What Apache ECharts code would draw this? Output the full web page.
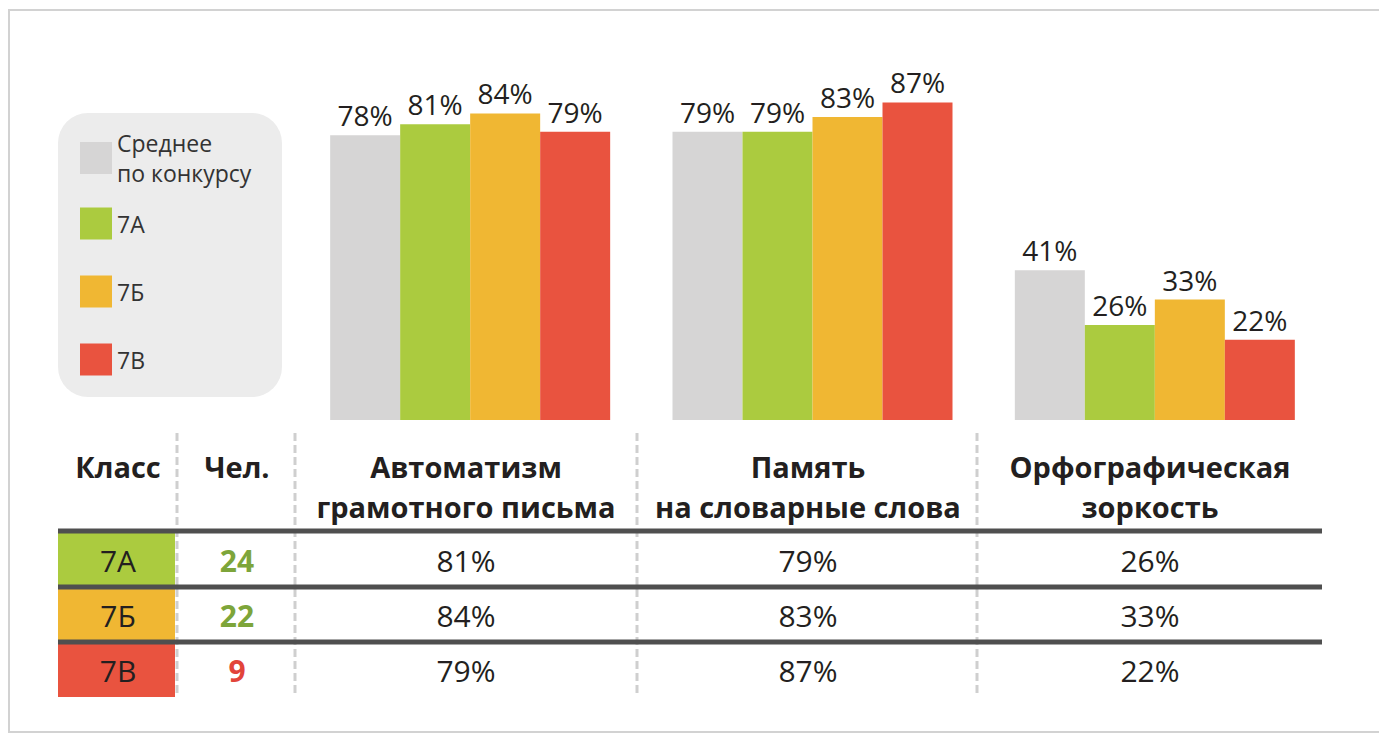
<!DOCTYPE html>
<html>
<head>
<meta charset="utf-8">
<script src="https://cdn.jsdelivr.net/npm/echarts@6/dist/echarts.min.js"></script>
<style>
html,body{margin:0;padding:0;background:#fff;}
#c{width:1379px;height:734px;}
</style>
</head>
<body>
<div id="c"></div>
<script>
// ---- data ----
const categoryTitles = ['Автоматизм', 'Память', 'Орфографическая'];
const categorySubtitles = ['грамотного письма', 'на словарные слова', 'зоркость'];
const seriesNames = ['Среднее по конкурсу', '7А', '7Б', '7В'];
const avgValues = [78, 79, 41];
const values7A = [81, 79, 26];
const values7B = [84, 83, 33];
const values7V = [79, 87, 22];
const classNames = ['7А', '7Б', '7В'];
const classCounts = [24, 22, 9];
const tableHeaders = ['Класс', 'Чел.'];

// ---- styling / layout ----
const FONT = "'Open Sans', 'Noto Sans', sans-serif";
const colors = ['#d6d5d5', '#abcb3f', '#f0b733', '#e9533f'];
const textColor = '#231f20';
const categories = categoryTitles.map((t, i) => t + '\n' + categorySubtitles[i]);
const allSeries = [avgValues, values7A, values7B, values7V];
const classSeries = [values7A, values7B, values7V];

const colCenters = [118, 237, 466, 808, 1150];
const dashX = [177, 295, 637, 977];
const hLineY = [531, 587, 642];
const tableBottom = 697;
const tableLeft = 58, tableRight = 1322, classCellRight = 175;

const graphic = [];
// outer frame
graphic.push({type: 'rect', z: 0, shape: {x: 9, y: 10, width: 1400, height: 722},
  style: {fill: 'none', stroke: '#d2d2d2', lineWidth: 2}});
// legend background
graphic.push({type: 'rect', z: 0, shape: {x: 58, y: 113, width: 224, height: 284, r: 30},
  style: {fill: '#ececec'}});

// class colored cells
classNames.forEach((c, i) => {
  const top = hLineY[i];
  const bottom = i + 1 < hLineY.length ? hLineY[i + 1] : tableBottom;
  graphic.push({type: 'rect', z: 1, shape: {x: tableLeft, y: top, width: classCellRight - tableLeft, height: bottom - top},
    style: {fill: colors[i + 1]}});
});
// dashed vertical separators
dashX.forEach(x => {
  graphic.push({type: 'line', z: 2, shape: {x1: x, y1: 433, x2: x, y2: tableBottom},
    style: {stroke: '#cfcfcf', lineWidth: 3, lineDash: [8, 4]}});
});
// thick horizontal lines
hLineY.forEach(y => {
  graphic.push({type: 'line', z: 3, shape: {x1: tableLeft, y1: y, x2: tableRight, y2: y},
    style: {stroke: '#4f4f4f', lineWidth: 5}});
});
// header texts
const headStyle = {fontSize: 29, fontWeight: 'bold', fontFamily: FONT, fill: textColor, align: 'center', verticalAlign: 'middle'};
tableHeaders.forEach((h, i) => {
  graphic.push({type: 'text', z: 4, x: colCenters[i], y: 466, style: Object.assign({text: h}, headStyle)});
});
categoryTitles.forEach((t, i) => {
  graphic.push({type: 'text', z: 4, x: colCenters[i + 2], y: 466, style: Object.assign({text: t}, headStyle)});
  graphic.push({type: 'text', z: 4, x: colCenters[i + 2], y: 506, style: Object.assign({text: categorySubtitles[i]}, headStyle)});
});
// body rows
classNames.forEach((c, r) => {
  const top = hLineY[r];
  const bottom = r + 1 < hLineY.length ? hLineY[r + 1] : tableBottom;
  const cy = (top + bottom) / 2 + 1;
  const base = {fontSize: 30, fontFamily: FONT, fill: textColor, align: 'center', verticalAlign: 'middle'};
  graphic.push({type: 'text', z: 4, x: colCenters[0], y: cy, style: Object.assign({}, base, {text: c})});
  graphic.push({type: 'text', z: 4, x: colCenters[1], y: cy, style: Object.assign({}, base,
    {text: String(classCounts[r]), fontWeight: 'bold', fill: classCounts[r] < 10 ? '#e2443a' : '#7da53a'})});
  classSeries[r].forEach((v, k) => {
    graphic.push({type: 'text', z: 4, x: colCenters[k + 2], y: cy, style: Object.assign({}, base, {text: v + '%'})});
  });
});

const legendText = {fontSize: 23, lineHeight: 30, color: '#333', fontFamily: FONT};
const option = {
  animation: false,
  backgroundColor: '#fff',
  grid: {left: 299, right: 53, top: 55, bottom: 314},
  xAxis: {type: 'category', data: categories, show: false},
  yAxis: {type: 'value', min: 0, max: 100, show: false},
  legend: [
    {data: [seriesNames[0]], orient: 'vertical', left: 80, top: 128, padding: 0,
      itemWidth: 32, itemHeight: 32, icon: 'rect',
      formatter: n => n.replace(' по ', '\nпо '), textStyle: legendText},
    {data: seriesNames.slice(1), orient: 'vertical', left: 80, top: 207.5, padding: 0,
      itemWidth: 32, itemHeight: 32, itemGap: 36, icon: 'rect', textStyle: legendText}
  ],
  series: seriesNames.map((n, i) => ({
    name: n, type: 'bar', data: allSeries[i], barWidth: 70, barGap: '0%',
    itemStyle: {color: colors[i]},
    label: {show: true, position: 'top', distance: 6, formatter: '{c}%',
      fontSize: 28, color: textColor, fontFamily: FONT}
  })),
  graphic: graphic
};
const chart = echarts.init(document.getElementById('c'), null, {renderer: 'svg'});
chart.setOption(option);
</script>
</body>
</html>
